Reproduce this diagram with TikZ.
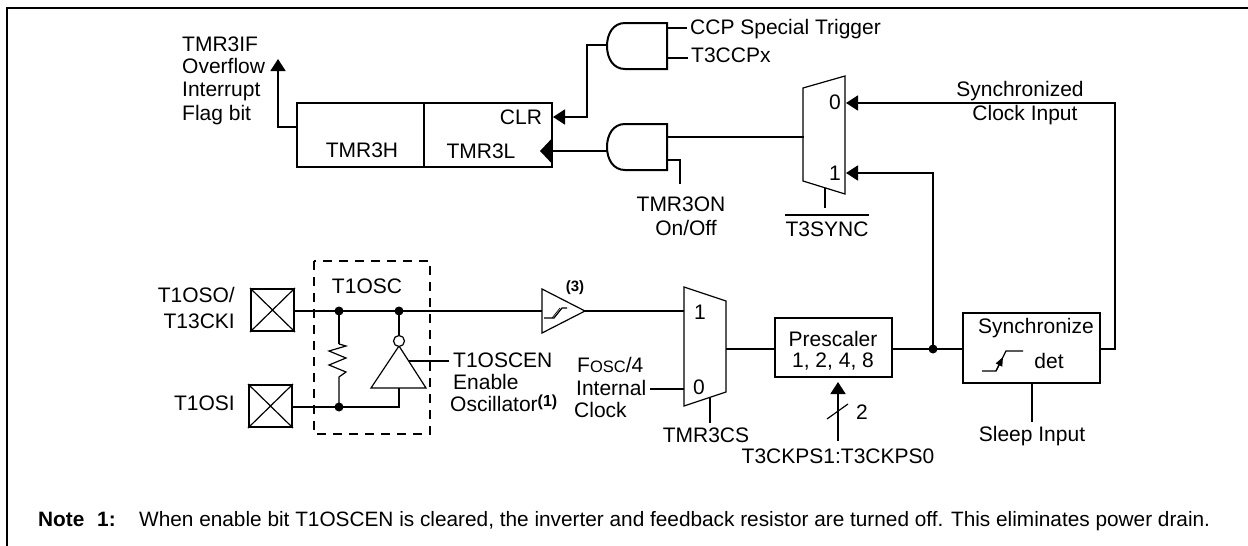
\documentclass[tikz,border=0pt]{standalone}
\usepackage{fontspec}
\setmainfont{Liberation Sans}
\usetikzlibrary{arrows.meta}
\tikzset{
  lbl/.style={inner sep=0pt,anchor=mid,yshift=-5pt,font=\fontsize{21}{24}\selectfont},
  lblw/.style={lbl,anchor=mid west},
  lble/.style={lbl,anchor=mid east},
  notetext/.style={inner sep=0pt,anchor=mid west,yshift=-4.5pt,font=\fontsize{20.8}{22}\selectfont},
  wire/.style={line width=1.8pt},
  thin wire/.style={line width=1.2pt},
  body/.style={line width=1.2pt,line join=miter},
  heavybody/.style={line width=2pt,line join=miter},
  boxnode/.style={draw,line width=2pt,inner sep=0pt,anchor=center},
  tip/.style={-{Triangle[length=12pt,width=15pt]}},
  bigtip/.style={-{Triangle[length=12pt,width=25pt]}},
  dotnode/.style={circle,fill=black,inner sep=0pt,minimum size=9pt},
  padnode/.style={boxnode,minimum width=43pt,minimum height=42pt}
}
\begin{document}
\begin{tikzpicture}[x=1pt,y=-1pt]
\useasboundingbox (0,0) rectangle (1248,546);
% frame
\coordinate (fa) at (7,546); \coordinate (fb) at (7,8); \coordinate (fc) at (1248,8);
\draw[line width=2.2pt] (fa) -- (fb) -- (fc);

% register
\node[boxnode,minimum width=127pt,minimum height=64pt] (th) at (360.5,135) {};
\node[boxnode,minimum width=128pt,minimum height=64pt] (tl) at (488,135) {};
\node[lbl] at (362,150) {TMR3H};
\node[lbl] at (481,151) {TMR3L};
\node[lbl] at (521,117) {CLR};
\coordinate (ovA) at (297,127); \coordinate (ovB) at (278,127); \coordinate (ovC) at (278,59);
\draw[wire,tip] (ovA) -- (ovB) -- (ovC);
\node[lblw] at (182,44) {TMR3IF};
\node[lblw] at (182,66) {Overflow};
\node[lblw] at (182,89) {Interrupt};
\node[lblw] at (182,113) {Flag bit};

% upper AND
\draw[heavybody] (667,23) -- (625,23) .. controls (613,23) and (607,34) .. (607,46)
  .. controls (607,58) and (613,69) .. (625,69) -- (667,69) -- cycle;
\coordinate (ua) at (667,28); \coordinate (uat) at (687,28);
\coordinate (ub) at (667,58); \coordinate (ubt) at (688,58);
\draw[wire] (ua) -- (uat);
\draw[wire] (ub) -- (ubt);
\node[lblw] at (690,27) {CCP Special Trigger};
\node[lblw] at (691,55) {T3CCPx};
\coordinate (uo) at (607,45); \coordinate (ub1) at (587,45); \coordinate (ub2) at (587,117); \coordinate (clr) at (553,117);
\draw[wire,tip] (uo) -- (ub1) -- (ub2) -- (clr);

% lower AND
\draw[heavybody] (667,124) -- (625,124) .. controls (613,124) and (607,135) .. (607,147)
  .. controls (607,159) and (613,170) .. (625,170) -- (667,170) -- cycle;
\coordinate (lo) at (607,151); \coordinate (tin) at (540,151);
\draw[wire,bigtip] (lo) -- (tin);
\coordinate (la) at (667,160); \coordinate (lb) at (680,160); \coordinate (lc) at (680,184);
\draw[wire] (la) -- (lb) -- (lc);
\node[lbl] at (681,204) {TMR3ON};
\node[lbl] at (686,228) {On/Off};

% upper mux
\draw[body] (803,88) -- (845,76) -- (845,194) -- (803,181) -- cycle;
\node[lbl] at (835,102) {0};
\node[lbl] at (835,173) {1};
\coordinate (lgo) at (667,137); \coordinate (mo) at (804,137);
\draw[wire] (lgo) -- (mo);
\coordinate (mc) at (825,188); \coordinate (mct) at (825,208);
\draw[wire] (mc) -- (mct);
\node[lbl] (sync) at (827,229) {T3SYNC};
\draw[wire] ([yshift=6.5pt]sync.north west) -- ([yshift=6.5pt]sync.north east);
\coordinate (m0) at (846,103); \coordinate (m1) at (846,173);
\coordinate (sb1) at (1100,349); \coordinate (sb2) at (1115,349); \coordinate (sb3) at (1115,103);
\draw[wire,tip] (sb1) -- (sb2) -- (sb3) -- (m0);
\node[lbl] at (1020,89) {Synchronized};
\node[lbl] at (1025,113) {Clock Input};

% synchronize
\node[boxnode,minimum width=137pt,minimum height=70pt] (syn) at (1031.5,348) {};
\node[lbl] at (1036,326) {Synchronize};
\node[lbl] at (1049,361) {det};
\coordinate (pa) at (982,371); \coordinate (pb) at (996,371); \coordinate (pm) at (1003,357); \coordinate (pc) at (1006,351); \coordinate (pd) at (1023,351);
\draw[thin wire] (pa) -- (pb) -- (pc) -- (pd);
\draw[thin wire,-{Triangle[length=9pt,width=7pt]}] (pb) -- (pm);
\coordinate (sl) at (1032,384); \coordinate (slb) at (1032,422);
\draw[wire] (sl) -- (slb);
\node[lbl] at (1032,434) {Sleep Input};

% prescaler
\node[boxnode,minimum width=117pt,minimum height=59pt] (pre) at (833.5,347.5) {};
\node[lbl] at (833,339) {Prescaler};
\node[lbl] at (833,360) {1, 2, 4, 8};
\node[dotnode] (jn) at (933,349) {};
\coordinate (jp) at (892,349); \coordinate (js) at (963,349); \coordinate (ja) at (933,173);
\draw[wire] (jp) -- (js);
\draw[wire,tip] (jn.center) -- (ja) -- (m1);
\coordinate (ps) at (838,441); \coordinate (pt) at (838,382);
\draw[wire,tip] (ps) -- (pt);
\coordinate (sa) at (827,419); \coordinate (sz) at (848,404);
\draw[thin wire] (sa) -- (sz);
\node[lbl] at (862,412) {2};
\node[lbl] at (838,456) {T3CKPS1:T3CKPS0};

% lower mux
\draw[body] (684,287) -- (726,301) -- (726,392) -- (684,406) -- cycle;
\node[lbl] at (700,312) {1};
\node[lbl] at (699,387) {0};
\coordinate (mox) at (726,349); \coordinate (pin) at (775,349);
\draw[wire] (mox) -- (pin);
\coordinate (i0a) at (650,389); \coordinate (i0) at (684,389);
\draw[wire] (i0a) -- (i0);
\coordinate (csa) at (710,398); \coordinate (csb) at (710,423);
\draw[wire] (csa) -- (csb);
\node[lbl] at (706,435) {TMR3CS};
\node[lblw] at (577,365) {F{\fontsize{16.5}{20}\selectfont OSC}/4};
\node[lblw] at (576,388) {Internal};
\node[lblw] at (574,410) {Clock};

% buffer
\draw[body] (542,289) -- (585,311) -- (542,333) -- cycle;
\coordinate (ba) at (544,318); \coordinate (bb) at (552,318); \coordinate (bc) at (560,308); \coordinate (bd) at (567,308);
\coordinate (be) at (554,318); \coordinate (bf) at (562,308);
\draw[thin wire] (ba) -- (be) -- (bf) -- (bd);
\draw[line width=.7pt] (bb) -- (bc);
\node[inner sep=0pt,anchor=mid,yshift=-3pt,font=\fontsize{15}{17}\selectfont\bfseries] at (575,286) {(3)};
\coordinate (bufo) at (585,311); \coordinate (m1i) at (684,311);
\draw[wire] (bufo) -- (m1i);

% pads
\node[padnode] (so) at (272.5,310) {};
\draw[thin wire] (so.north west) -- (so.south east) (so.north east) -- (so.south west);
\node[padnode] (si) at (270.5,406) {};
\draw[thin wire] (si.north west) -- (si.south east) (si.north east) -- (si.south west);
\node[lble] at (235,295) {T1OSO/};
\node[lble] at (235,321) {T13CKI};
\node[lble] at (235,403) {T1OSI};

% oscillator
\coordinate (dsa) at (314,261); \coordinate (dsb) at (430,434);
\draw[line width=2pt,dash pattern=on 9pt off 7pt] (dsa) rectangle (dsb);
\node[lbl] at (367,286) {T1OSC};
\node[dotnode] (d1) at (339,311) {};
\node[dotnode] (d2) at (399,311) {};
\node[dotnode] (d3) at (339,407) {};
\coordinate (bufi) at (542,311);
\draw[wire] (so.east) ++(0,1) -- (bufi);
\coordinate (ra) at (339,344); \coordinate (rb) at (339,377);
\draw[wire] (d1.center) -- (ra);
\draw[thin wire] (ra) -- (346,346) -- (329,351) -- (346,358) -- (329,365) -- (346,372) -- (rb) -- (d3.center);
% inverter
\draw[body] (399,346) -- (426,388) -- (371,388) -- cycle;
\node[draw,circle,line width=1.2pt,inner sep=0pt,minimum size=11pt,fill=white] (bub) at (399,341) {};
\draw[wire] (d2.center) -- (bub.north);
\coordinate (inva) at (399,388); \coordinate (invb) at (399,407);
\draw[thin wire] (si.east) ++(0,1) -- (d3.center) -- (invb) -- (inva);
\coordinate (ena) at (409,361); \coordinate (enb) at (449,361);
\draw[wire] (ena) -- (enb);
\node[lblw] at (453,360) {T1OSCEN};
\node[lblw] at (453,382) {Enable};
\node[lblw] at (450,404) {Oscillator\raisebox{5pt}{\fontsize{16}{18}\selectfont\bfseries(1)}};

% note
\node[notetext,font=\fontsize{20.8}{22}\selectfont\bfseries] at (38,519) {Note};
\node[notetext,font=\fontsize{20.8}{22}\selectfont\bfseries] at (97,519) {1:};
\node[notetext] at (139,519) {When enable bit T1OSCEN is cleared, the inverter and feedback resistor are turned off. This eliminates power drain.};
\end{tikzpicture}
\end{document}
